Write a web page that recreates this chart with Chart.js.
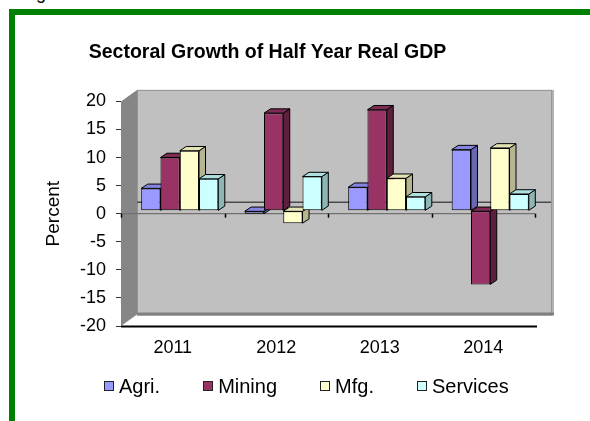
<!DOCTYPE html>
<html>
<head>
<meta charset="utf-8">
<title>Sectoral Growth of Half Year Real GDP</title>
<script src="https://cdn.jsdelivr.net/npm/chart.js@4.4.1/dist/chart.umd.min.js"></script>
<style>
  html, body { margin: 0; padding: 0; background: #fff; }
  body { position: relative; width: 590px; height: 421px; overflow: hidden;
         font-family: "Liberation Sans", Arial, sans-serif; }
  #caption { position: absolute; left: 21px; top: -17px; font-size: 18px; color: #000; }
  #frame { position: absolute; left: 9px; top: 9px; right: 0; bottom: 0;
           border-left: 6px solid #008000; border-top: 6px solid #008000; }
  #chart { position: absolute; left: 0; top: 0; }
  #legend { position: absolute; left: 104px; top: 374px; display: flex; gap: 43px;
            font-size: 20px; color: #000; line-height: 24px; }
  #legend .item { display: flex; align-items: center; white-space: nowrap; }
  #legend .box { width: 8px; height: 8px; border: 1px solid #222; margin-right: 5px; }
</style>
</head>
<body>
<div id="caption">Fig</div>
<div id="frame"></div>
<canvas id="chart" width="590" height="421"></canvas>
<div id="legend"></div>

<script>
// half-year real GDP growth by sector, percent
const years = ['2011', '2012', '2013', '2014'];
const sectors = ['Agri.', 'Mining', 'Mfg.', 'Services'];
const agri = [4.0, -0.5, 4.2, 10.9];
const mining = [9.5, 17.4, 18.0, -13.1];
const mfg = [10.7, -2.2, 5.8, 11.2];
const services = [5.7, 6.1, 2.5, 3.0];
const yMin = -20, yMax = 20, yStep = 5;

const fills = ['#9999ff', '#993366', '#ffffcc', '#ccffff'];
const tops = ['#8585e0', '#7d2a54', '#e3e3b5', '#aee0e0'];
const sides = ['#6767b3', '#5e1f3f', '#b5b590', '#8db5b5'];

const FONT = '"Liberation Sans", Arial, sans-serif';
Chart.defaults.font.family = FONT;
Chart.defaults.color = '#000';

// wall depth and bar depth offsets
const WALL_DX = 16, WALL_DY = -11.5;
const BAR_DX = 6.5, BAR_DY = -4.3;
const PLANE_DX = 7, PLANE_DY = -2.85;

const walls = {
  id: 'walls',
  beforeDraw(chart) {
    const ctx = chart.ctx;
    const {left, right, top, bottom} = chart.chartArea;
    const x = chart.scales.x, y = chart.scales.y;
    const w = right - left, h = bottom - top;
    ctx.save();
    // back wall
    ctx.fillStyle = '#c0c0c0';
    ctx.fillRect(left + WALL_DX, top + WALL_DY, w, h);
    ctx.fillStyle = '#b2b2b2';
    ctx.fillRect(right + WALL_DX, top + WALL_DY, 3, h);
    ctx.strokeStyle = '#959595';
    ctx.lineWidth = 1;
    ctx.strokeRect(left + WALL_DX + 0.5, top + WALL_DY + 0.5, w, h);
    ctx.fillStyle = '#808080';
    ctx.fillRect(left + WALL_DX, bottom + WALL_DY - 2, w + 3, 3);
    // side wall
    ctx.fillStyle = '#868686';
    ctx.beginPath();
    ctx.moveTo(left, top);
    ctx.lineTo(left + WALL_DX, top + WALL_DY);
    ctx.lineTo(left + WALL_DX, bottom + WALL_DY);
    ctx.lineTo(left, bottom);
    ctx.closePath();
    ctx.fill();
    // zero lines
    const y0 = y.getPixelForValue(0);
    ctx.strokeStyle = '#4a4a4a';
    ctx.lineWidth = 1.5;
    ctx.beginPath();
    ctx.moveTo(left + WALL_DX, y0 + WALL_DY);
    ctx.lineTo(right + WALL_DX, y0 + WALL_DY);
    ctx.stroke();
    ctx.strokeStyle = '#707070';
    ctx.lineWidth = 1.2;
    ctx.beginPath();
    ctx.moveTo(left, y0);
    ctx.lineTo(right, y0);
    ctx.stroke();
    // category ticks on the zero line
    ctx.strokeStyle = '#000';
    ctx.lineWidth = 1.5;
    for (let i = 0; i <= years.length; i++) {
      const px = Math.round(x.getPixelForValue(i - 0.5)) + 0.5;
      ctx.beginPath();
      ctx.moveTo(px, y0);
      ctx.lineTo(px, y0 + 4);
      ctx.stroke();
    }
    // floor front edge
    ctx.strokeStyle = '#000';
    ctx.lineWidth = 2;
    ctx.beginPath();
    ctx.moveTo(left, bottom + 0.5);
    ctx.lineTo(right + 2, bottom + 0.5);
    ctx.stroke();
    ctx.restore();
  }
};

function face(ctx, pts, fill) {
  ctx.beginPath();
  ctx.moveTo(pts[0][0], pts[0][1]);
  for (let i = 1; i < pts.length; i++) ctx.lineTo(pts[i][0], pts[i][1]);
  ctx.closePath();
  ctx.fillStyle = fill;
  ctx.fill();
  ctx.stroke();
}

// top and side faces, drawn left to right, then the bars themselves on the same plane
const columns3d = {
  id: 'columns3d',
  beforeDatasetsDraw(chart) {
    const ctx = chart.ctx;
    ctx.save();
    ctx.translate(PLANE_DX, PLANE_DY);
    ctx.strokeStyle = '#000';
    ctx.lineWidth = 1;
    ctx.lineJoin = 'round';
    for (let j = 0; j < years.length; j++) {
      chart.data.datasets.forEach((ds, i) => {
        const el = chart.getDatasetMeta(i).data[j];
        const p = el.getProps(['x', 'y', 'base', 'width'], true);
        const l = p.x - p.width / 2, r = p.x + p.width / 2;
        const t = Math.min(p.y, p.base), b = Math.max(p.y, p.base);
        face(ctx, [[r, t], [r + BAR_DX, t + BAR_DY], [r + BAR_DX, b + BAR_DY], [r, b]], sides[i]);
        face(ctx, [[l, t], [l + BAR_DX, t + BAR_DY], [r + BAR_DX, t + BAR_DY], [r, t]], tops[i]);
      });
    }
  },
  afterDatasetsDraw(chart) {
    chart.ctx.restore();
  }
};

const htmlLegend = {
  id: 'htmlLegend',
  afterUpdate(chart) {
    const box = document.getElementById('legend');
    box.innerHTML = '';
    chart.data.datasets.forEach(ds => {
      const item = document.createElement('div');
      item.className = 'item';
      const sw = document.createElement('span');
      sw.className = 'box';
      sw.style.background = ds.backgroundColor;
      const txt = document.createElement('span');
      txt.textContent = ds.label;
      item.appendChild(sw);
      item.appendChild(txt);
      box.appendChild(item);
    });
  }
};

const series = [agri, mining, mfg, services];

new Chart(document.getElementById('chart'), {
  type: 'bar',
  data: {
    labels: years,
    datasets: series.map((vals, i) => ({
      label: sectors[i],
      data: vals,
      backgroundColor: fills[i],
      borderColor: '#000',
      borderWidth: 1,
      borderSkipped: false,
      categoryPercentage: 0.745,
      barPercentage: 1
    }))
  },
  options: {
    responsive: false,
    animation: false,
    layout: { padding: { top: 0, right: 55, bottom: 51.4, left: 0 } },
    plugins: {
      legend: { display: false },
      tooltip: { enabled: false },
      title: {
        display: true,
        text: 'Sectoral Growth of Half Year Real GDP',
        color: '#000',
        font: { size: 19.5, weight: 'bold', family: FONT },
        padding: { top: 41, bottom: 37 }
      }
    },
    scales: {
      x: {
        grid: { display: false, drawTicks: false },
        border: { display: false },
        ticks: { font: { size: 18 }, color: '#000', padding: 11 }
      },
      y: {
        min: yMin,
        max: yMax,
        ticks: { stepSize: yStep, font: { size: 18 }, color: '#000', padding: 10 },
        grid: { drawOnChartArea: false, drawTicks: true, tickLength: 5, color: '#333' },
        border: { display: false },
        title: {
          display: true,
          text: 'Percent',
          color: '#000',
          font: { size: 19 },
          padding: { top: 42.6, bottom: 0 }
        },
        afterFit(scale) { scale.width = 121; }
      }
    }
  },
  plugins: [walls, columns3d, htmlLegend]
});
</script>
</body>
</html>
